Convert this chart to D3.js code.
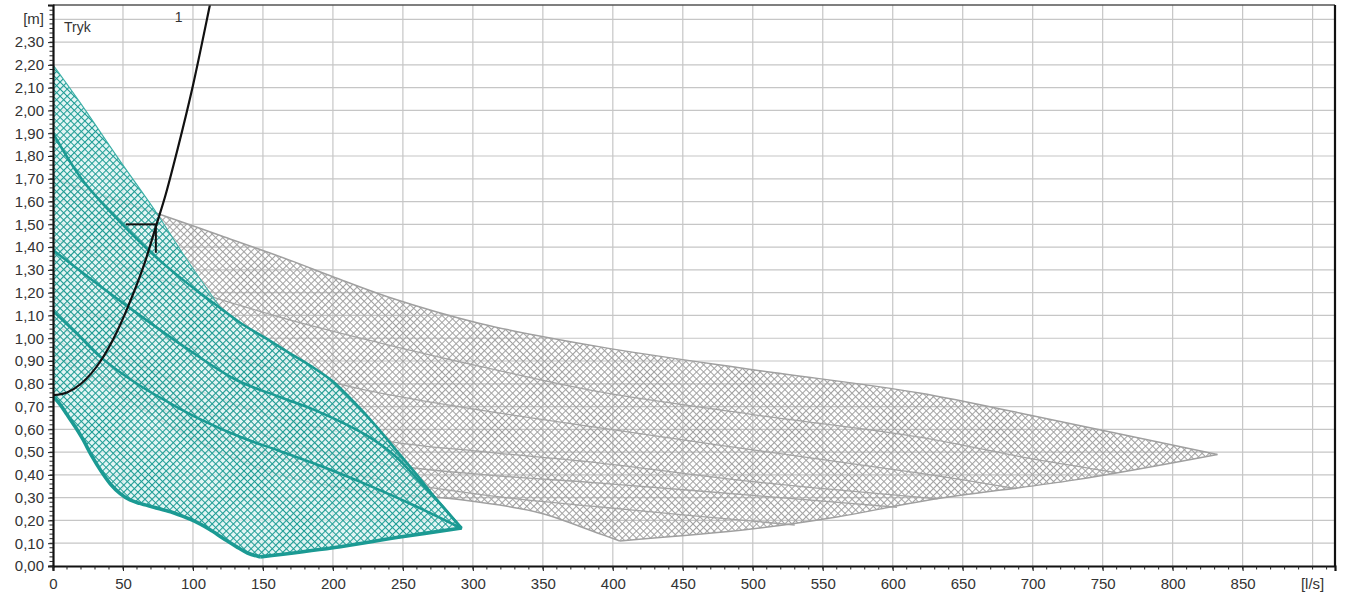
<!DOCTYPE html>
<html><head><meta charset="utf-8">
<script src="https://cdn.jsdelivr.net/npm/d3@7"></script>
<style>
html,body{margin:0;padding:0;background:#fff;}
svg{display:block;font-family:"Liberation Sans",Arial,sans-serif;}
</style></head>
<body>
<svg id="chart" width="1345" height="593"></svg>
<script>
// ---------- data (flow q in l/s, head h in m) ----------
const xTickValues = [0,50,100,150,200,250,300,350,400,450,500,550,600,650,700,750,800,850];
const xUnitLabel = "[l/s]";
const xUnitAt = 900;
const yTickValues = [0,0.1,0.2,0.3,0.4,0.5,0.6,0.7,0.8,0.9,1.0,1.1,1.2,1.3,1.4,1.5,1.6,1.7,1.8,1.9,2.0,2.1,2.2,2.3];
const yUnitLabel = "[m]";
const yUnitAt = 2.4;
const titleText = "Tryk";
const curveLabel = "1";

// grey pump family (larger pump)
const greyMax = [[0,1.70],[71,1.555],[120,1.45],[169,1.343],[200,1.27],[240,1.18],[305,1.065],[391,0.962],[500,0.862],[619,0.76],[700,0.66],[770,0.57],[832,0.49]];
const greyN2  = [[0,1.44],[80,1.25],[162,1.093],[234,0.979],[310,0.87],[391,0.764],[500,0.665],[619,0.566],[700,0.47],[760,0.41]];
const greyN3  = [[0,1.17],[100,0.96],[170,0.85],[234,0.759],[310,0.68],[391,0.606],[500,0.51],[619,0.408],[688,0.34]];
const greyN4  = [[0,1.06],[70,0.86],[140,0.69],[234,0.553],[310,0.50],[391,0.452],[500,0.37],[632,0.295]];
const greyN5  = [[0,1.00],[100,0.70],[170,0.54],[234,0.45],[310,0.40],[391,0.364],[500,0.31],[603,0.258]];
const greyN6  = [[0,0.96],[100,0.62],[170,0.46],[234,0.38],[310,0.31],[391,0.259],[530,0.18]];
const greyMin = [[0,0.93],[40,0.78],[80,0.63],[120,0.50],[162,0.40],[200,0.35],[234,0.32],[293,0.29],[348,0.233],[389,0.145],[405,0.11]];
const greyLimit = [[405,0.11],[499,0.162],[560,0.215],[626,0.29],[729,0.377],[832,0.49]];

// teal pump family (selected pump)
const tealMax = [[0,2.20],[21,2.02],[46,1.795],[74,1.55],[94,1.36],[120,1.13]];
const tealN2  = [[0,1.90],[21,1.695],[48,1.51],[76,1.343],[105,1.198],[120,1.13],[134,1.067],[152,1.0],[169,0.935],[185,0.875],[200,0.81],[215,0.72],[230,0.62],[245,0.51],[260,0.40],[275,0.285],[292,0.167]];
const tealN3  = [[0,1.387],[27,1.26],[55,1.132],[92,0.97],[130,0.82],[162,0.742],[185,0.69],[205,0.635],[225,0.57],[245,0.48],[262,0.37],[278,0.265],[292,0.163]];
const tealN4  = [[0,1.12],[17,1.02],[34,0.917],[60,0.80],[85,0.71],[105,0.645],[134,0.566],[162,0.505],[195,0.43],[229,0.345],[260,0.26],[292,0.165]];
const tealMin = [[0,0.745],[5,0.71],[10,0.665],[16,0.61],[21,0.56],[28,0.48],[34,0.42],[41,0.36],[48,0.318],[55,0.29],[62,0.275],[72,0.258],[84,0.238],[96,0.21],[105,0.185],[112,0.16],[122,0.12],[131,0.085],[139,0.057],[148,0.04]];
const tealLimit = [[148,0.04],[200,0.08],[248,0.127],[292,0.167]];

// system curve and duty point
const systemCurve = [[0,0.75],[10,0.762],[20,0.80],[34,0.90],[45,1.02],[57,1.19],[66,1.34],[74,1.50],[80,1.62],[89,1.83],[100,2.11],[112,2.46],[116,2.58]];
const dutyQ = 73.5, dutyH = 1.50, dutyQStart = 52, dutyHEnd = 1.375;

// ---------- layout ----------
const svg = d3.select("#chart");
const L = 53, R = 1335, T = 5, B = 566;
const x = d3.scaleLinear().domain([0, 916]).range([L, R]);
const y = d3.scaleLinear().domain([0, 2.463]).range([B, T]);

const defs = svg.append("defs");
defs.append("clipPath").attr("id","plotClip").append("rect")
  .attr("x",L).attr("y",T).attr("width",R-L).attr("height",B-T);

function hatch(id, bg, stroke, sw){
  const p = defs.append("pattern").attr("id",id)
    .attr("patternUnits","userSpaceOnUse").attr("width",5).attr("height",5)
    .attr("patternTransform","rotate(45)");
  if (bg) p.append("rect").attr("width",5).attr("height",5).attr("fill",bg);
  p.append("path").attr("d","M0,0.5H5M0.5,0V5").attr("stroke",stroke).attr("stroke-width",sw).attr("fill","none");
}
hatch("hGrey", null, "#a2a2a2", 1.1);
hatch("hTeal", "rgba(218,243,241,0.72)", "#1f9d95", 1.15);

// grid
const grid = svg.append("g");
const xGrid = d3.range(50, 901, 50);
const yGrid = d3.range(1, 25).map(d => d/10);
grid.selectAll("line.gx").data(xGrid).join("line")
  .attr("x1",d=>x(d)).attr("x2",d=>x(d)).attr("y1",T).attr("y2",B)
  .attr("stroke","#c6c6c6").attr("stroke-width",1.2);
grid.selectAll("line.gy").data(yGrid).join("line")
  .attr("x1",L).attr("x2",R).attr("y1",d=>y(d)).attr("y2",d=>y(d))
  .attr("stroke","#c6c6c6").attr("stroke-width",1.2);

const plot = svg.append("g").attr("clip-path","url(#plotClip)");
const lineGen = d3.line().x(d=>x(d[0])).y(d=>y(d[1])).curve(d3.curveCatmullRom.alpha(0.5));
function poly(segs){
  return segs.map((s,i)=>{ const d = lineGen(s); return i===0 ? d : d.replace(/^M/,"L"); }).join("") + "Z";
}
const rev = a => a.slice().reverse();

// grey region
plot.append("path").attr("d", poly([greyMax, rev(greyLimit), rev(greyMin)]))
  .attr("fill","url(#hGrey)").attr("stroke","none");
[greyN2, greyN3, greyN4, greyN5, greyN6].forEach(c=>{
  plot.append("path").attr("d", lineGen(c)).attr("fill","none").attr("stroke","#a4a4a4").attr("stroke-width",1.3);
});
[greyMax, greyMin, greyLimit].forEach(c=>{
  plot.append("path").attr("d", lineGen(c)).attr("fill","none").attr("stroke","#a0a0a0").attr("stroke-width",1.5);
});

// teal region
const tealUpper = tealMax.concat(tealN2.filter(p=>p[0]>120));
plot.append("path").attr("d", poly([tealUpper, rev(tealLimit), rev(tealMin)]))
  .attr("fill","url(#hTeal)").attr("stroke","none");
plot.append("path").attr("d", lineGen(tealMax)).attr("fill","none").attr("stroke","#3aaea6").attr("stroke-width",1.1);
[tealN2, tealN3, tealN4].forEach(c=>{
  plot.append("path").attr("d", lineGen(c)).attr("fill","none").attr("stroke","#1b9a93").attr("stroke-width",2.6);
});
[tealMin, tealLimit].forEach(c=>{
  plot.append("path").attr("d", lineGen(c)).attr("fill","none").attr("stroke","#1b9a93").attr("stroke-width",3.6)
    .attr("stroke-linejoin","round");
});

// system curve
plot.append("path").attr("d", d3.line().x(d=>x(d[0])).y(d=>y(d[1])).curve(d3.curveMonotoneX)(systemCurve))
  .attr("fill","none").attr("stroke","#111").attr("stroke-width",2.2);
// duty point marker
plot.append("line").attr("x1",x(dutyQStart)).attr("x2",x(dutyQ)).attr("y1",y(dutyH)).attr("y2",y(dutyH))
  .attr("stroke","#111").attr("stroke-width",2);
plot.append("line").attr("x1",x(dutyQ)).attr("x2",x(dutyQ)).attr("y1",y(dutyH)).attr("y2",y(dutyHEnd))
  .attr("stroke","#111").attr("stroke-width",2);

// texts inside plot
svg.append("text").attr("x",L+11).attr("y",T+27).attr("font-size",14).attr("fill","#333").text(titleText);
svg.append("text").attr("x",x(87)).attr("y",T+17).attr("font-size",14).attr("fill","#333").text(curveLabel);

// frame
svg.append("line").attr("x1",L).attr("x2",R).attr("y1",T).attr("y2",T).attr("stroke","#555").attr("stroke-width",1.5);
svg.append("line").attr("x1",R).attr("x2",R).attr("y1",T).attr("y2",B).attr("stroke","#111").attr("stroke-width",2.2);

// axes
const xAxis = svg.append("g").attr("transform",`translate(0,${B})`)
  .call(d3.axisBottom(x).tickValues(xTickValues).tickSize(5).tickPadding(7).tickFormat(d3.format("d")));
const yAxis = svg.append("g").attr("transform",`translate(${L},0)`)
  .call(d3.axisLeft(y).tickValues(yTickValues).tickSize(5).tickPadding(4).tickFormat(d=>d.toFixed(2).replace(".",",")));
[xAxis,yAxis].forEach(a=>{
  a.select(".domain").attr("stroke","#111").attr("stroke-width",2.2);
  a.selectAll(".tick line").attr("stroke","#222");
  a.selectAll("text").attr("font-size",15).attr("fill","#333").attr("font-family","'Liberation Sans',Arial,sans-serif");
});
// unit labels placed at the last grid positions
xAxis.append("text").attr("x",x(xUnitAt)).attr("y",23).attr("text-anchor","middle")
  .attr("font-size",15).attr("fill","#333").text(xUnitLabel);
yAxis.append("text").attr("x",-9).attr("y",y(yUnitAt)).attr("dy","0.32em").attr("text-anchor","end")
  .attr("font-size",15).attr("fill","#333").text(yUnitLabel);

// minor ticks
const xMinor = d3.range(0, 911, 10);
svg.append("g").selectAll("line").data(xMinor).join("line")
  .attr("x1",d=>x(d)).attr("x2",d=>x(d)).attr("y1",B).attr("y2",B+3.5).attr("stroke","#222").attr("stroke-width",1);
const yMinor = d3.range(0, 124).map(i=>i*0.02);
svg.append("g").selectAll("line").data(yMinor).join("line")
  .attr("x1",L-3.5).attr("x2",L).attr("y1",d=>y(d)).attr("y2",d=>y(d)).attr("stroke","#222").attr("stroke-width",1);
</script>
</body></html>
